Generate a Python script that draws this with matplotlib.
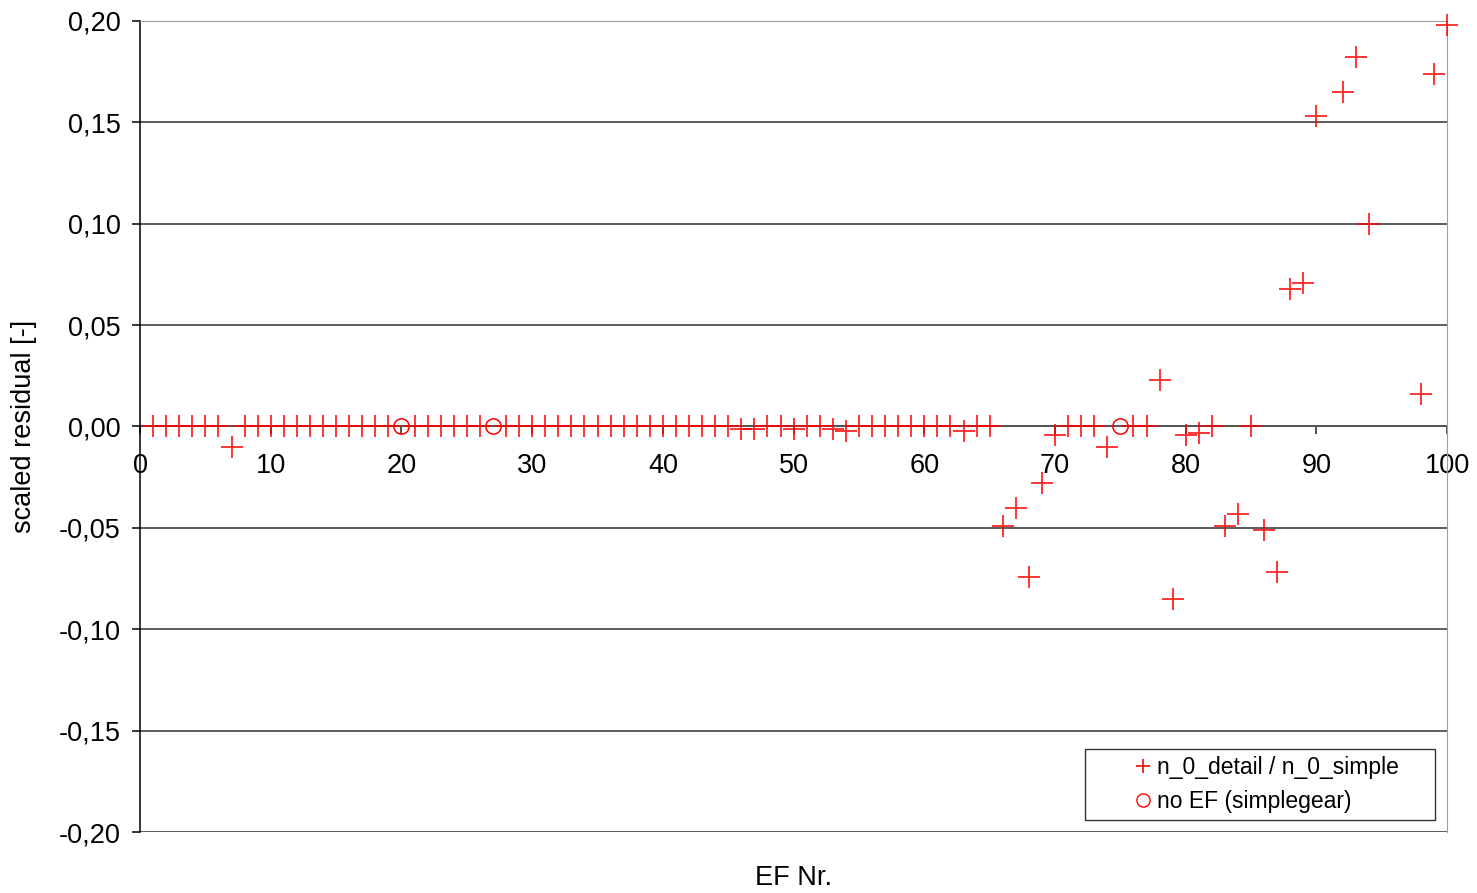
import matplotlib
matplotlib.use("Agg")
import matplotlib.pyplot as plt
from matplotlib.lines import Line2D
from matplotlib.ticker import FuncFormatter, MultipleLocator

plt.rcParams['font.family'] = ['Liberation Sans', 'DejaVu Sans']

# EF number and scaled residual n_0_detail / n_0_simple
ef_nr = [1, 2, 3, 4, 5, 6, 7, 8, 9, 10, 11, 12, 13, 14, 15, 16, 17, 18, 19,
         21, 22, 23, 24, 25, 26,
         28, 29, 30, 31, 32, 33, 34, 35, 36, 37, 38, 39, 40, 41, 42, 43, 44,
         45, 46, 47, 48, 49, 50, 51, 52, 53, 54, 55, 56, 57, 58, 59, 60, 61,
         62, 63, 64, 65, 66, 67, 68, 69, 70, 71, 72, 73, 74,
         76, 77, 78, 79, 80, 81, 82, 83, 84, 85, 86, 87, 88, 89, 90,
         92, 93, 94, 98, 99, 100]
residual = [0, 0, 0, 0, 0, 0, -0.010, 0, 0, 0, 0, 0, 0, 0, 0, 0, 0, 0, 0,
            0, 0, 0, 0, 0, 0,
            0, 0, 0, 0, 0, 0, 0, 0, 0, 0, 0, 0, 0, 0, 0, 0, 0,
            0, -0.001, -0.001, 0, 0, -0.001, 0, 0, -0.001, -0.002, 0, 0, 0,
            0, 0, 0, 0,
            0, -0.002, 0, 0, -0.049, -0.040, -0.074, -0.028, -0.004, 0, 0,
            0, -0.010,
            0, 0, 0.023, -0.085, -0.004, -0.003, 0, -0.049, -0.043, 0,
            -0.051, -0.072, 0.068, 0.071, 0.153,
            0.165, 0.182, 0.100, 0.016, 0.174, 0.198]

# EF without detailed model (simplegear)
no_ef_nr = [20, 27, 75]
no_ef_residual = [0, 0, 0]

x_ticks = [0, 10, 20, 30, 40, 50, 60, 70, 80, 90, 100]

fig = plt.figure(figsize=(14.77, 8.93), dpi=100, facecolor='white')
ax = fig.add_axes([0.0948, 0.0683, 0.885, 0.9082])

ax.set_xlim(0, 100)
ax.set_ylim(-0.20, 0.20)

# horizontal gridlines
ax.yaxis.set_major_locator(MultipleLocator(0.05))
ax.grid(axis='y', color='#303030', linewidth=1.1, zorder=0)

ax.plot(ef_nr, residual, linestyle='none', marker='+', markersize=16.5,
        markeredgewidth=1.3, color='#ff0000', alpha=0.85, zorder=3,
        clip_on=False)
ax.plot(no_ef_nr, no_ef_residual, linestyle='none', marker='o',
        markersize=11, markerfacecolor='none', markeredgewidth=1.1,
        markeredgecolor='#ff0000', zorder=3)

# Excel style axes: x axis crosses at zero
ax.spines['bottom'].set_position(('data', 0))
ax.spines['bottom'].set_color('#555555')
ax.spines['bottom'].set_linewidth(1.3)
ax.spines['bottom'].set_zorder(2)
ax.spines['top'].set_color('#a0a0a0')
ax.spines['right'].set_color('#a0a0a0')
ax.spines['left'].set_color('black')
ax.spines['left'].set_linewidth(1.1)

ax.set_xticks(x_ticks)
ax.tick_params(axis='x', direction='out', length=6, width=1.2,
               color='#333333', pad=13, labelsize=19.5)
ax.tick_params(axis='y', direction='out', length=6, width=1.1,
               pad=8, labelsize=19.5)

comma = FuncFormatter(lambda v, pos: ('%.2f' % (0.0 if abs(v) < 1e-9 else v))
                      .replace('.', ','))
ax.yaxis.set_major_formatter(comma)

ax.set_ylabel('scaled residual [-]', fontsize=19.5)
ax.yaxis.set_label_coords(-0.079, 0.5)
ax.set_xlabel('EF Nr.', fontsize=19.5)
ax.xaxis.set_label_coords(0.5, -0.0565)
ax.xaxis.label.set_va('center')

handles = [
    Line2D([], [], linestyle='none', marker='+', markersize=10,
           markeredgewidth=1.2, color='#ff0000'),
    Line2D([], [], linestyle='none', marker='o', markersize=9.5,
           markerfacecolor='none', markeredgewidth=1.0,
           markeredgecolor='#ff0000'),
]
leg = ax.legend(handles, ['n_0_detail / n_0_simple', 'no EF (simplegear)'],
                loc='lower left', bbox_to_anchor=(0.723, 0.0148, 0.2678, 0.09),
                mode='expand', fontsize=16.5, frameon=True, fancybox=False,
                handlelength=4.46, handletextpad=-1.62, borderpad=0.3,
                labelspacing=0.5, borderaxespad=0)
leg.get_frame().set_edgecolor('black')
leg.get_frame().set_linewidth(1.0)

fig.savefig('out.png', dpi=100, facecolor='white')
